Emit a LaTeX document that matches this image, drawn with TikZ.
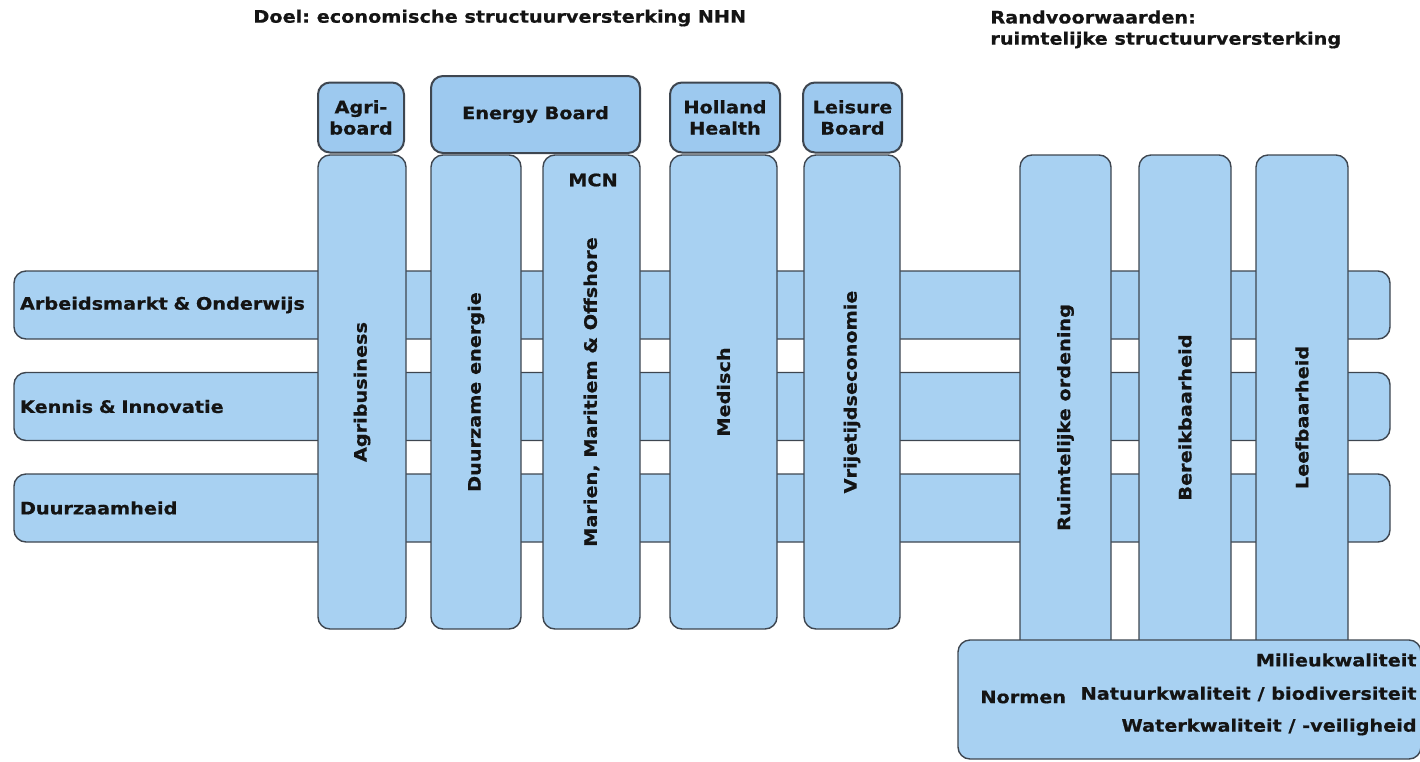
\documentclass[tikz,border=0pt]{standalone}
\usepackage{fontspec}
\setmainfont[FakeStretch=1.12, BoldFeatures={FakeBold=0.6}]{DejaVu Sans}
\usetikzlibrary{positioning}
\frenchspacing

\definecolor{barfill}{HTML}{A8D1F2}
\definecolor{boardfill}{HTML}{9DC9EF}
\definecolor{edgegray}{HTML}{3E4650}
\definecolor{inkblack}{HTML}{141414}

\begin{document}
\begin{tikzpicture}[
    x=0.5pt, y=-0.5pt,
    every node/.style={font=\fontsize{8.6}{10.6}\selectfont\bfseries, text=inkblack},
    bar/.style={draw=edgegray, line width=0.7pt, fill=barfill, rounded corners=6pt, inner sep=0pt},
    row/.style={bar, minimum width=688pt, minimum height=34pt, text width=682pt, align=left},
    column/.style={bar, rotate=90, minimum width=237pt},
    board/.style={draw=edgegray, line width=1pt, fill=boardfill, rounded corners=6pt, inner sep=0pt, align=center, minimum height=35pt},
    heading/.style={anchor=west, align=left, inner sep=0pt}
]
\useasboundingbox (0,0) rectangle (1420,761);

% Titles
\node[heading] (doel) at (253,18) {Doel: economische structuurversterking NHN};
\node[heading, anchor=north west] (rand) at (990,10) {Randvoorwaarden:\\ruimtelijke structuurversterking};

% Horizontal themes
\node[row] (arbeid) at (702,305) {Arbeidsmarkt \& Onderwijs};
\node[row] (kennis) at (702,406.5) {Kennis \& Innovatie};
\node[row] (duurz) at (702,508) {Duurzaamheid};

% Economic clusters
\node[column, minimum height=44pt] (agri) at (362,392) {Agribusiness};
\node[column, minimum height=45pt] (energie) at (476,392) {Duurzame energie};
\node[column, minimum height=48.5pt] (marien) at (591.5,392) {Marien, Maritiem \& Offshore};
\node[inner sep=0pt] (mcn) at (593,180) {MCN};
\node[column, minimum height=53.5pt] (medisch) at (723.5,392) {Medisch};
\node[column, minimum height=48pt] (vrije) at (852,392) {Vrijetijdseconomie};

% Boards on top
\node[board, minimum width=43pt] (agriboard) at (361,117.5) {Agri-\\board};
\node[board, minimum width=104.5pt, minimum height=38.5pt] (energyboard) at (535.5,114.5) {Energy Board};
\node[board, minimum width=55pt] (holland) at (725,117.5) {Holland\\Health};
\node[board, minimum width=49.5pt] (leisure) at (852.5,117.5) {Leisure\\Board};

% Spatial conditions
\node[column, minimum width=262.5pt, minimum height=45.5pt] (ruimte) at (1065.5,417.5) {Ruimtelijke ordening};
\node[column, minimum width=262.5pt, minimum height=46pt] (bereik) at (1185,417.5) {Bereikbaarheid};
\node[column, minimum width=262.5pt, minimum height=46pt] (leef) at (1302,417.5) {Leefbaarheid};

% Norms
\node[bar, minimum width=231.5pt, minimum height=59.5pt] (normen) at (1189.5,699.5) {};
\node[anchor=west, inner sep=0pt] (normlabel) at (980,697) {Normen};
\node[anchor=east, inner sep=0pt] (milieu) at (1417,660) {Milieukwaliteit};
\node[anchor=east, inner sep=0pt] (natuur) at (1417,694) {Natuurkwaliteit / biodiversiteit};
\node[anchor=east, inner sep=0pt] (water) at (1417,727) {Waterkwaliteit / -veiligheid};

\end{tikzpicture}
\end{document}
